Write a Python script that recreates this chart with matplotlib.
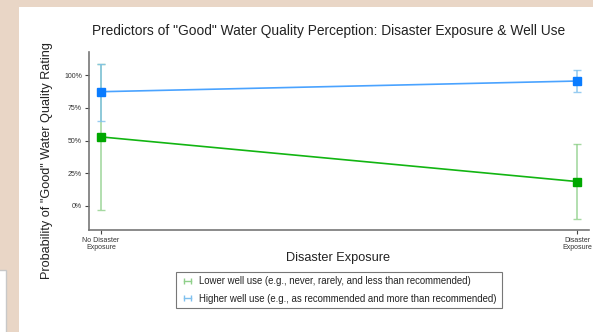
import matplotlib.pyplot as plt
from matplotlib.patches import Rectangle
from matplotlib.lines import Line2D

plt.rcParams['font.family'] = ['Liberation Sans', 'DejaVu Sans']

# predicted probabilities with 95% CIs
exposure_labels = ['No Disaster\nExposure', 'Disaster\nExposure']
low_use = [0.528, 0.185]
low_use_lo = [-0.03, -0.10]
low_use_hi = [1.09, 0.47]
high_use = [0.875, 0.957]
high_use_lo = [0.65, 0.87]
high_use_hi = [1.09, 1.044]
ytick_vals = [0, 0.25, 0.5, 0.75, 1.0]
ytick_labels = ['0%', '25%', '50%', '75%', '100%']
legend_labels = [
    'Lower well use (e.g., never, rarely, and less than recommended)',
    'Higher well use (e.g., as recommended and more than recommended)',
]


def main():
    fig = plt.figure(figsize=(5.93, 3.32), dpi=100)
    fig.patch.set_facecolor('#e9d6c6')
    W, H = 593, 332
    # white page and the edge of a side box
    fig.patches.append(Rectangle((19 / W, 0), 1 - 19 / W, 1 - 7 / H,
                                 transform=fig.transFigure, facecolor='white',
                                 edgecolor='none', zorder=-2))
    fig.patches.append(Rectangle((-0.01, -0.01), 0.01 + 6 / W, 0.01 + 62 / H,
                                 transform=fig.transFigure, facecolor='white',
                                 edgecolor='#c8c8c8', lw=1, zorder=-2))

    ax = fig.add_axes([89 / W, 1 - 230 / H, 500 / W, 178 / H])
    ax.set_facecolor('none')
    x = list(range(len(exposure_labels)))

    green, green_err = '#12b512', '#8fd08a'
    blue, blue_err = '#4aa3ff', '#7fc0ee'

    ax.errorbar(x, low_use, yerr=[[m - l for m, l in zip(low_use, low_use_lo)],
                                  [h - m for m, h in zip(low_use, low_use_hi)]],
                fmt='none', ecolor=green_err, elinewidth=1.2, capsize=3, alpha=0.8)
    ax.errorbar(x, high_use, yerr=[[m - l for m, l in zip(high_use, high_use_lo)],
                                   [h - m for m, h in zip(high_use, high_use_hi)]],
                fmt='none', ecolor=blue_err, elinewidth=1.2, capsize=3, alpha=0.8)
    ax.plot(x, low_use, color=green, lw=1.2, marker='s', ms=5.5,
            mfc='#00a800', mec='#00a800')
    ax.plot(x, high_use, color=blue, lw=1.2, marker='s', ms=5.5,
            mfc='#0a7cff', mec='#0a7cff')

    ax.set_xlim(-0.025, 1.025)
    ax.set_ylim(-0.187, 1.18)
    ax.set_yticks(ytick_vals)
    ax.set_yticklabels(ytick_labels)
    ax.set_xticks(x)
    ax.set_xticklabels(exposure_labels, linespacing=0.95)
    ax.tick_params(labelsize=5, length=3, width=0.8, color='#444444',
                   labelcolor='#333333', pad=2)
    for side in ['top', 'right']:
        ax.spines[side].set_visible(False)
    for side in ['left', 'bottom']:
        ax.spines[side].set_color('#777777')
        ax.spines[side].set_linewidth(1.2)

    fig.text(329 / W, 1 - 31 / H, 'Predictors of "Good" Water Quality Perception: '
             'Disaster Exposure & Well Use', ha='center', va='center',
             fontsize=9.9, color='#222222')
    fig.text(47 / W, 1 - 160.5 / H, 'Probability of "Good" Water Quality Rating',
             rotation=90, ha='center', va='center', fontsize=9.1, color='#222222')
    fig.text(338 / W, 1 - 258 / H, 'Disaster Exposure', ha='center', va='center',
             fontsize=9.2, color='#222222')

    handles = [
        Line2D([0], [0], color=green_err, lw=1, marker='|', ms=5),
        Line2D([0], [0], color=blue_err, lw=1, marker='|', ms=5),
    ]
    leg = fig.legend(handles, legend_labels, loc='center', numpoints=2,
                     bbox_to_anchor=(339 / W, 1 - 290 / H), fontsize=6.9,
                     frameon=True, fancybox=False, handlelength=1.3,
                     handletextpad=0.6, borderpad=0.5, labelspacing=0.75)
    leg.get_frame().set_edgecolor('#555555')
    leg.get_frame().set_linewidth(0.8)
    for t in leg.get_texts():
        t.set_color('#222222')

    fig.savefig('out.png', dpi=100, facecolor=fig.get_facecolor())


if __name__ == '__main__':
    main()
